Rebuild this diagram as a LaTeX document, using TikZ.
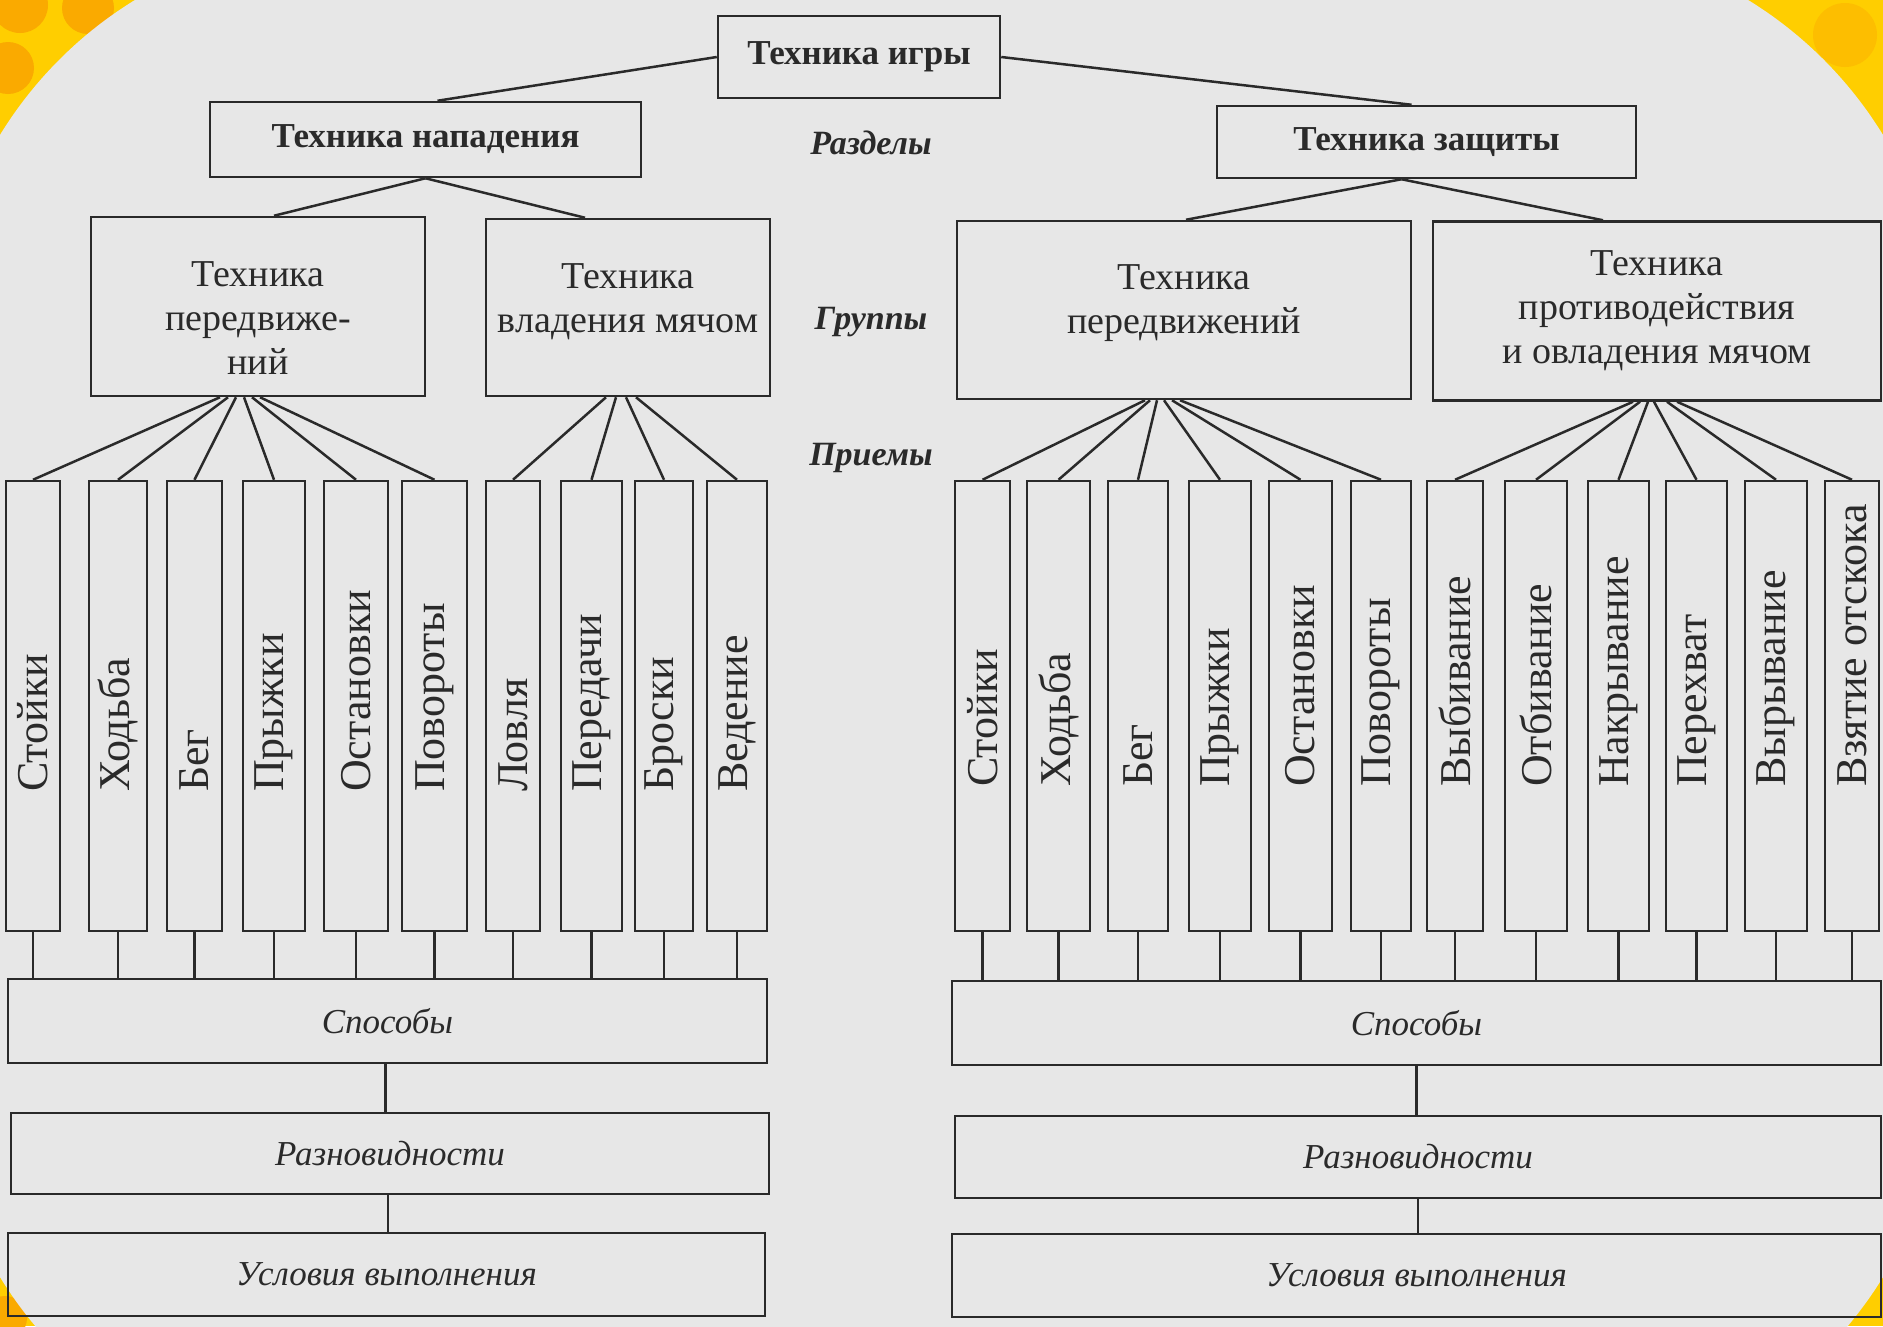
\documentclass[tikz,border=0pt]{standalone}
\usepackage{fontspec}
\setmainfont{Liberation Serif}
\usetikzlibrary{positioning}

\definecolor{ink}{RGB}{42,42,42}
\definecolor{paper}{RGB}{231,231,231}
\definecolor{sun}{RGB}{255,206,0}
\definecolor{peel}{RGB}{250,170,0}

\tikzset{
  box/.style={draw=ink, line width=2.5pt, inner sep=0pt, text=ink, align=center},
  headbox/.style={box, font=\fontsize{35}{40}\selectfont\bfseries},
  groupbox/.style={box, font=\fontsize{38}{44}\selectfont},
  grouptext/.style={text=ink, align=center, inner sep=0pt, font=\fontsize{38}{44}\selectfont},
  tech/.style={box, minimum height=450pt},
  techtext/.style={rotate=90, anchor=west, inner sep=0pt, text=ink, font=\fontsize{44}{48}\selectfont},
  levelbox/.style={box, font=\fontsize{35}{40}\selectfont\itshape},
  tag/.style={text=ink, font=\fontsize{34}{40}\selectfont\bfseries\itshape},
  link/.style={draw=ink, line width=2.5pt}
}

\begin{document}
\begin{tikzpicture}[x=1pt, y=-1pt]
  \useasboundingbox (0,0) rectangle (1883,1326);
  % background
  \fill[sun] (0,0) rectangle (1883,1326);
  \fill[peel] (20,5) circle (28pt);
  \fill[peel] (88,8) circle (26pt);
  \fill[peel] (8,68) circle (26pt);
  \fill[peel!45!sun] (1845,35) circle (32pt);
  \fill[peel] (5,1318) circle (22pt);
  \fill[paper] (348,-60) rectangle (1535,1472);
  \fill[paper] (-60,348) rectangle (1943,1064);
  \foreach \cx/\cy in {348/348, 1535/348, 348/1064, 1535/1064}
    \fill[paper] (\cx,\cy) circle (408pt);

  % sections
  \node[headbox, minimum width=282pt, minimum height=82pt] (game) at (859,57) {Техника игры};
  \node[headbox, minimum width=431pt, minimum height=75pt] (atk) at (425.5,139.5) {Техника нападения};
  \node[headbox, minimum width=419pt, minimum height=72pt] (dfn) at (1426.5,142) {Техника защиты};

  % groups
  \node[groupbox, minimum width=334pt, minimum height=179pt,
    label={[grouptext, yshift=-12pt]center:{Техника\\передвиже-\\ний}}] (moveA) at (258,306.5) {};
  \node[groupbox, minimum width=284pt, minimum height=177pt,
    label={[grouptext, yshift=6pt]center:{Техника\\владения мячом}}] (ballA) at (628,307.5) {};
  \node[groupbox, minimum width=454pt, minimum height=178pt,
    label={[grouptext, yshift=7pt]center:{Техника\\передвижений}}] (moveD) at (1184,310) {};
  \node[groupbox, minimum width=448pt, minimum height=179pt] (ballD) at (1657,311) {Техника\\противодействия\\и овладения мячом};

  \node[tag] (tsec) at (871,143) {Разделы};
  \node[tag] (tgrp) at (871,322) {Группы};
  \node[tag] (tmov) at (871,458) {Приемы};

  % techniques
  \foreach \n/\l/\r/\txt in {a1/6/60/Стойки, a2/89/147/Ходьба, a3/167/222/Бег,
      a4/243/305/Прыжки, a5/324/388/Остановки, a6/402/467/Повороты,
      a7/486/540/Ловля, a8/561/622/Передачи, a9/635/693/Броски, a10/707/767/Ведение} {
    \node[tech, minimum width={\r-\l}] (\n) at ({(\l+\r)/2},706) {};
    \node[techtext] (\n-t) at ({(\l+\r)/2},792) {\txt};
  }
  \foreach \n/\l/\r/\txt in {d1/955/1010/Стойки, d2/1027/1090/Ходьба, d3/1108/1168/Бег,
      d4/1189/1251/Прыжки, d5/1269/1332/Остановки, d6/1351/1411/Повороты,
      d7/1427/1483/Выбивание, d8/1505/1567/Отбивание, d9/1588/1649/Накрывание,
      d10/1666/1727/Перехват, d11/1745/1807/Вырывание, d12/1825/1879/Взятие отскока} {
    \node[tech, minimum width={\r-\l}] (\n) at ({(\l+\r)/2},706) {};
    \node[techtext] (\n-t) at ({(\l+\r)/2},787) {\txt};
  }

  % levels
  \node[levelbox, minimum width=759pt, minimum height=84pt] (wayA) at (387.5,1021) {Способы};
  \node[levelbox, minimum width=758pt, minimum height=81pt] (kindA) at (390,1153.5) {Разновидности};
  \node[levelbox, minimum width=757pt, minimum height=83pt] (condA) at (386.5,1274.5) {Условия выполнения};
  \node[levelbox, minimum width=929pt, minimum height=84pt] (wayD) at (1416.5,1023) {Способы};
  \node[levelbox, minimum width=926pt, minimum height=82pt] (kindD) at (1418,1157) {Разновидности};
  \node[levelbox, minimum width=929pt, minimum height=83pt] (condD) at (1416.5,1275.5) {Условия выполнения};

  % links
  \draw[link] (game.west) -- ([xshift=12pt]atk.north);
  \draw[link] (game.east) -- ([xshift=-15pt]dfn.north);
  \draw[link] (atk.south) -- ([xshift=16pt]moveA.north);
  \draw[link] (atk.south) -- ([xshift=-43pt]ballA.north);
  \draw[link] ([xshift=-25pt]dfn.south) -- ([xshift=2pt]moveD.north);
  \draw[link] ([xshift=-25pt]dfn.south) -- ([xshift=-54pt]ballD.north);

  \foreach \i/\s in {1/-38,2/-30,3/-22,4/-14,5/-6,6/2}
    \draw[link] (moveA.south) ++(\s,0) -- (a\i.north);
  \foreach \i/\s in {7/-22,8/-12,9/-2,10/8}
    \draw[link] (ballA.south) ++(\s,0) -- (a\i.north);
  \foreach \i/\s in {1/-39,2/-34,3/-27,4/-20,5/-12,6/-4}
    \draw[link] (moveD.south) ++(\s,0) -- (d\i.north);
  \foreach \i/\s in {7/-24,8/-17,9/-9,10/-3,11/10,12/20}
    \draw[link] (ballD.south) ++(\s,0) -- (d\i.north);

  \foreach \i in {1,...,10}
    \draw[link] (a\i.south) -- (a\i.south |- wayA.north);
  \foreach \i in {1,...,12}
    \draw[link] (d\i.south) -- (d\i.south |- wayD.north);

  \draw[link] ([xshift=-2pt]wayA.south) -- ([xshift=-2pt]wayA.south |- kindA.north);
  \draw[link] ([xshift=-2pt]kindA.south) -- ([xshift=-2pt]kindA.south |- condA.north);
  \draw[link] (wayD.south) -- (wayD.south |- kindD.north);
  \draw[link] (kindD.south) -- (kindD.south |- condD.north);
\end{tikzpicture}
\end{document}
